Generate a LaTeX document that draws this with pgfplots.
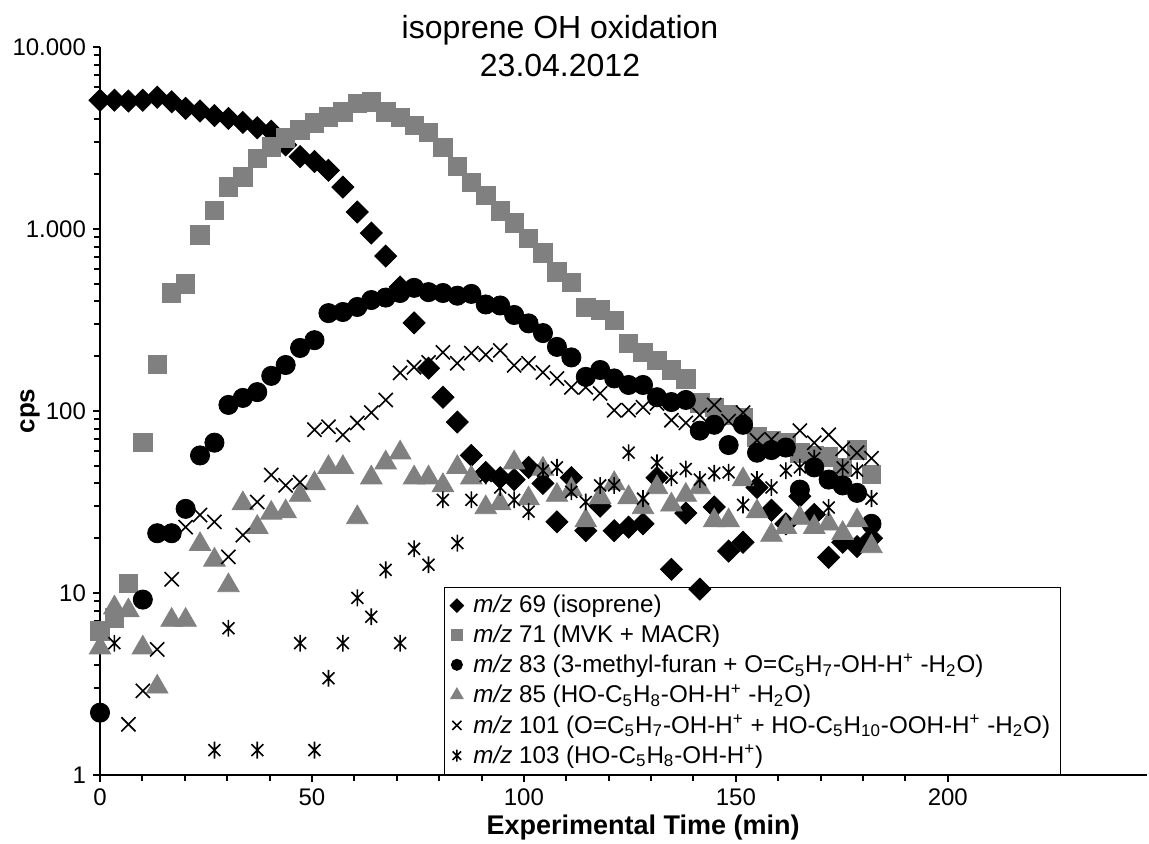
\documentclass[border=0pt]{standalone}
\usepackage{fontspec}
\setmainfont{Liberation Sans}
\usepackage{pgfplots}
\pgfplotsset{compat=1.18}
\usetikzlibrary{calc}

% x with a vertical bar, as in the m/z 103 series
\pgfdeclareplotmark{xbar}{%
  \pgfpathmoveto{\pgfqpoint{-.7071\pgfplotmarksize}{-.7071\pgfplotmarksize}}%
  \pgfpathlineto{\pgfqpoint{.7071\pgfplotmarksize}{.7071\pgfplotmarksize}}%
  \pgfpathmoveto{\pgfqpoint{-.7071\pgfplotmarksize}{.7071\pgfplotmarksize}}%
  \pgfpathlineto{\pgfqpoint{.7071\pgfplotmarksize}{-.7071\pgfplotmarksize}}%
  \pgfpathmoveto{\pgfqpoint{0pt}{-\pgfplotmarksize}}%
  \pgfpathlineto{\pgfqpoint{0pt}{\pgfplotmarksize}}%
  \pgfusepathqstroke}

\definecolor{mgray}{RGB}{128,128,128}

\begin{document}
\begin{tikzpicture}
\begin{axis}[
    scale only axis,
    width=523.5pt, height=364pt,
    xmin=0, xmax=247,
    ymode=log, ymin=1, ymax=10000,
    axis x line=bottom, axis y line=left,
    axis line style={-, line width=1.3pt},
    every tick/.style={black, line width=1pt},
    tick align=outside,
    major tick length=3.5pt, minor tick length=3pt,
    xtick={0,50,100,150,200}, minor x tick num=4,
    ytick={1,10,100,1000,10000},
    yticklabels={1,10,100,1.000,10.000},
    /pgf/number format/assume math mode=true,
    tick label style={font=\fontsize{12}{14}\selectfont},
    clip=false,
    legend cell align=left,
    legend style={at={(axis cs:81.1,1)}, anchor=south west,
        draw=black, fill=none, line width=0.6pt,
        font=\fontsize{12.1}{13}\selectfont, row sep=0.4pt, column sep=3pt,
        inner xsep=3pt, inner ysep=2pt},
]

% m/z 69 isoprene
\addplot[only marks, mark=square*, mark size=3.9pt, mark options={rotate=45, fill=black, draw=black},
    legend image post style={mark size=2.3pt}] table {
t v
0.0 5100
3.4 5100
6.7 5050
10.1 5100
13.5 5300
16.9 5000
20.2 4600
23.6 4450
27.0 4200
30.3 4050
33.7 3850
37.1 3600
40.4 3450
43.8 2900
47.2 2500
50.6 2350
53.9 2100
57.3 1700
60.7 1240
64.0 950
67.4 710
70.8 480
74.1 305
77.5 172
80.9 119
84.3 87
87.6 57
91.0 46
94.4 43
97.7 42
101.1 49
104.5 40
107.8 24.6
111.2 43
114.6 22
118.0 30
121.3 22
124.7 23
128.1 24
131.4 43
134.8 13.5
138.2 27.5
141.5 10.5
144.9 29.7
148.3 17
151.7 19
155.0 38
158.4 28.5
161.8 24
165.1 34
168.5 27
171.9 15.7
175.2 19
178.6 18
182.0 20
};
\addlegendentry{\textit{m/z} 69 (isoprene)}

% m/z 71 MVK + MACR
\addplot[only marks, mark=square*, mark size=4.6pt, mark options={fill=mgray, draw=mgray},
    legend image post style={mark size=2.6pt}] table {
t v
0.0 6.2
3.4 7.3
6.7 11.3
10.1 67
13.5 180
16.9 445
20.2 500
23.6 930
27.0 1270
30.3 1700
33.7 1930
37.1 2450
40.4 2820
43.8 3160
47.2 3500
50.6 3820
53.9 4120
57.3 4400
60.7 4900
64.0 5000
67.4 4400
70.8 4100
74.1 3700
77.5 3400
80.9 2800
84.3 2200
87.6 1800
91.0 1530
94.4 1260
97.7 1080
101.1 890
104.5 740
107.8 580
111.2 510
114.6 370
118.0 360
121.3 315
124.7 236
128.1 210
131.4 190
134.8 168
138.2 150
141.5 111
144.9 105
148.3 95
151.7 92
155.0 72
158.4 69
161.8 67
165.1 59
168.5 57
171.9 56
175.2 49
178.6 61
182.0 45
};
\addlegendentry{\textit{m/z} 71 (MVK + MACR)}

% m/z 83
\addplot[only marks, mark=*, mark size=4.8pt, mark options={fill=black, draw=black},
    legend image post style={mark size=2.7pt}] table {
t v
0.0 2.2
10.1 9.2
13.5 21.3
16.9 21.3
20.2 29
23.6 57
27.0 67
30.3 108
33.7 118
37.1 127
40.4 156
43.8 179
47.2 222
50.6 245
53.9 345
57.3 350
60.7 373
64.0 407
67.4 420
70.8 445
74.1 475
77.5 450
80.9 445
84.3 430
87.6 440
91.0 385
94.4 380
97.7 337
101.1 303
104.5 268
107.8 225
111.2 197
114.6 154
118.0 168
121.3 151
124.7 139
128.1 139
131.4 119
134.8 112
138.2 115
141.5 78
144.9 84
148.3 65
151.7 84
155.0 59
158.4 61
161.8 63
165.1 37
168.5 49
171.9 42
175.2 39
178.6 35.5
182.0 24
};
\addlegendentry{\textit{m/z} 83 (3-methyl-furan + O=C\textsubscript{5}H\textsubscript{7}-OH-H\textsuperscript{+} -H\textsubscript{2}O)}

% m/z 85
\addplot[only marks, mark=triangle*, mark size=6.2pt, mark options={fill=mgray, draw=mgray},
    legend image post style={mark size=3.4pt}] table {
t v
0.0 5.0
3.4 8.3
6.7 8.0
10.1 5.0
13.5 3.05
16.9 7.1
20.2 7.1
23.6 18.5
27.0 15.2
30.3 11
33.7 31
37.1 23
40.4 27.5
43.8 28
47.2 34.5
50.6 40
53.9 49
57.3 49
60.7 26
64.0 43
67.4 52
70.8 59
74.1 43
77.5 43
80.9 39
84.3 49
87.6 43
91.0 29.5
94.4 31
97.7 52
101.1 33
104.5 48
107.8 34.5
111.2 37
114.6 25
118.0 33.5
121.3 40
124.7 33.5
128.1 29.5
131.4 38
134.8 30.5
138.2 34.5
141.5 38
144.9 25
148.3 25
151.7 42
155.0 28
158.4 20.8
161.8 23
165.1 25.8
168.5 23
171.9 24
175.2 21.3
178.6 25
182.0 18
};
\addlegendentry{\textit{m/z} 85 (HO-C\textsubscript{5}H\textsubscript{8}-OH-H\textsuperscript{+} -H\textsubscript{2}O)}

% m/z 101
\addplot[only marks, mark=x, mark size=5pt, mark options={draw=black, line width=0.8pt},
    legend image post style={mark size=3.2pt}] table {
t v
6.7 1.9
10.1 2.9
13.5 4.9
16.9 11.9
20.2 23
23.6 26.8
27.0 24.6
30.3 15.8
33.7 20.8
37.1 31.6
40.4 44.5
43.8 39
47.2 40.6
50.6 79
53.9 82
57.3 74
60.7 86
64.0 98
67.4 115
70.8 162
74.1 174
77.5 185
80.9 210
84.3 183
87.6 208
91.0 204
94.4 215
97.7 178
101.1 183
104.5 163
107.8 151
111.2 135
114.6 135
118.0 125
121.3 101
124.7 101
128.1 105
131.4 110
134.8 89
138.2 86
141.5 95
144.9 108
148.3 88
151.7 98
155.0 69
158.4 70
161.8 62
165.1 78
168.5 67
171.9 74
175.2 62
178.6 59
182.0 55
};
\addlegendentry{\textit{m/z} 101 (O=C\textsubscript{5}H\textsubscript{7}-OH-H\textsuperscript{+} + HO-C\textsubscript{5}H\textsubscript{10}-OOH-H\textsuperscript{+} -H\textsubscript{2}O)}

% m/z 103
\addplot[only marks, mark=xbar, mark size=4.2pt, mark options={draw=black, line width=0.8pt},
    legend image post style={mark size=3pt}] table {
t v
3.4 5.3
27.0 1.37
30.3 6.4
37.1 1.37
47.2 5.3
50.6 1.37
53.9 3.4
57.3 5.3
60.7 9.4
64.0 7.4
67.4 13.4
70.8 5.3
74.1 17.5
77.5 14.3
80.9 32.5
84.3 18.8
87.6 32.5
91.0 44
94.4 38
97.7 32.5
101.1 28
104.5 47
107.8 49
111.2 36
114.6 31.6
118.0 39
121.3 39
124.7 59
128.1 33
131.4 52
134.8 43
138.2 48
141.5 42
144.9 45.5
148.3 46
151.7 30.5
155.0 42
158.4 38
161.8 47
165.1 49
168.5 55
171.9 29.5
175.2 49
178.6 47
182.0 33
};
\addlegendentry{\textit{m/z} 103 (HO-C\textsubscript{5}H\textsubscript{8}-OH-H\textsuperscript{+})}

\coordinate (O) at (rel axis cs:0,0);
\end{axis}

% titles and axis labels, offsets in pt from the axis origin
\node[font=\fontsize{16}{18}\selectfont, anchor=base] at ($(O)+(230pt,368pt)$) {isoprene OH oxidation};
\node[font=\fontsize{16}{18}\selectfont, anchor=base] at ($(O)+(230pt,349pt)$) {23.04.2012};
\node[font=\fontsize{13}{15}\bfseries, rotate=90] at ($(O)+(-35pt,182pt)$) {cps};
\node[font=\fontsize{13.5}{15}\bfseries, anchor=base east, inner sep=0pt] at ($(O)+(350pt,-30pt)$) {Experimental Time (min)};

\pgfresetboundingbox
\path ($(O)+(-50pt,-34.5pt)$) rectangle ($(O)+(524.5pt,387.5pt)$);
\end{tikzpicture}
\end{document}
